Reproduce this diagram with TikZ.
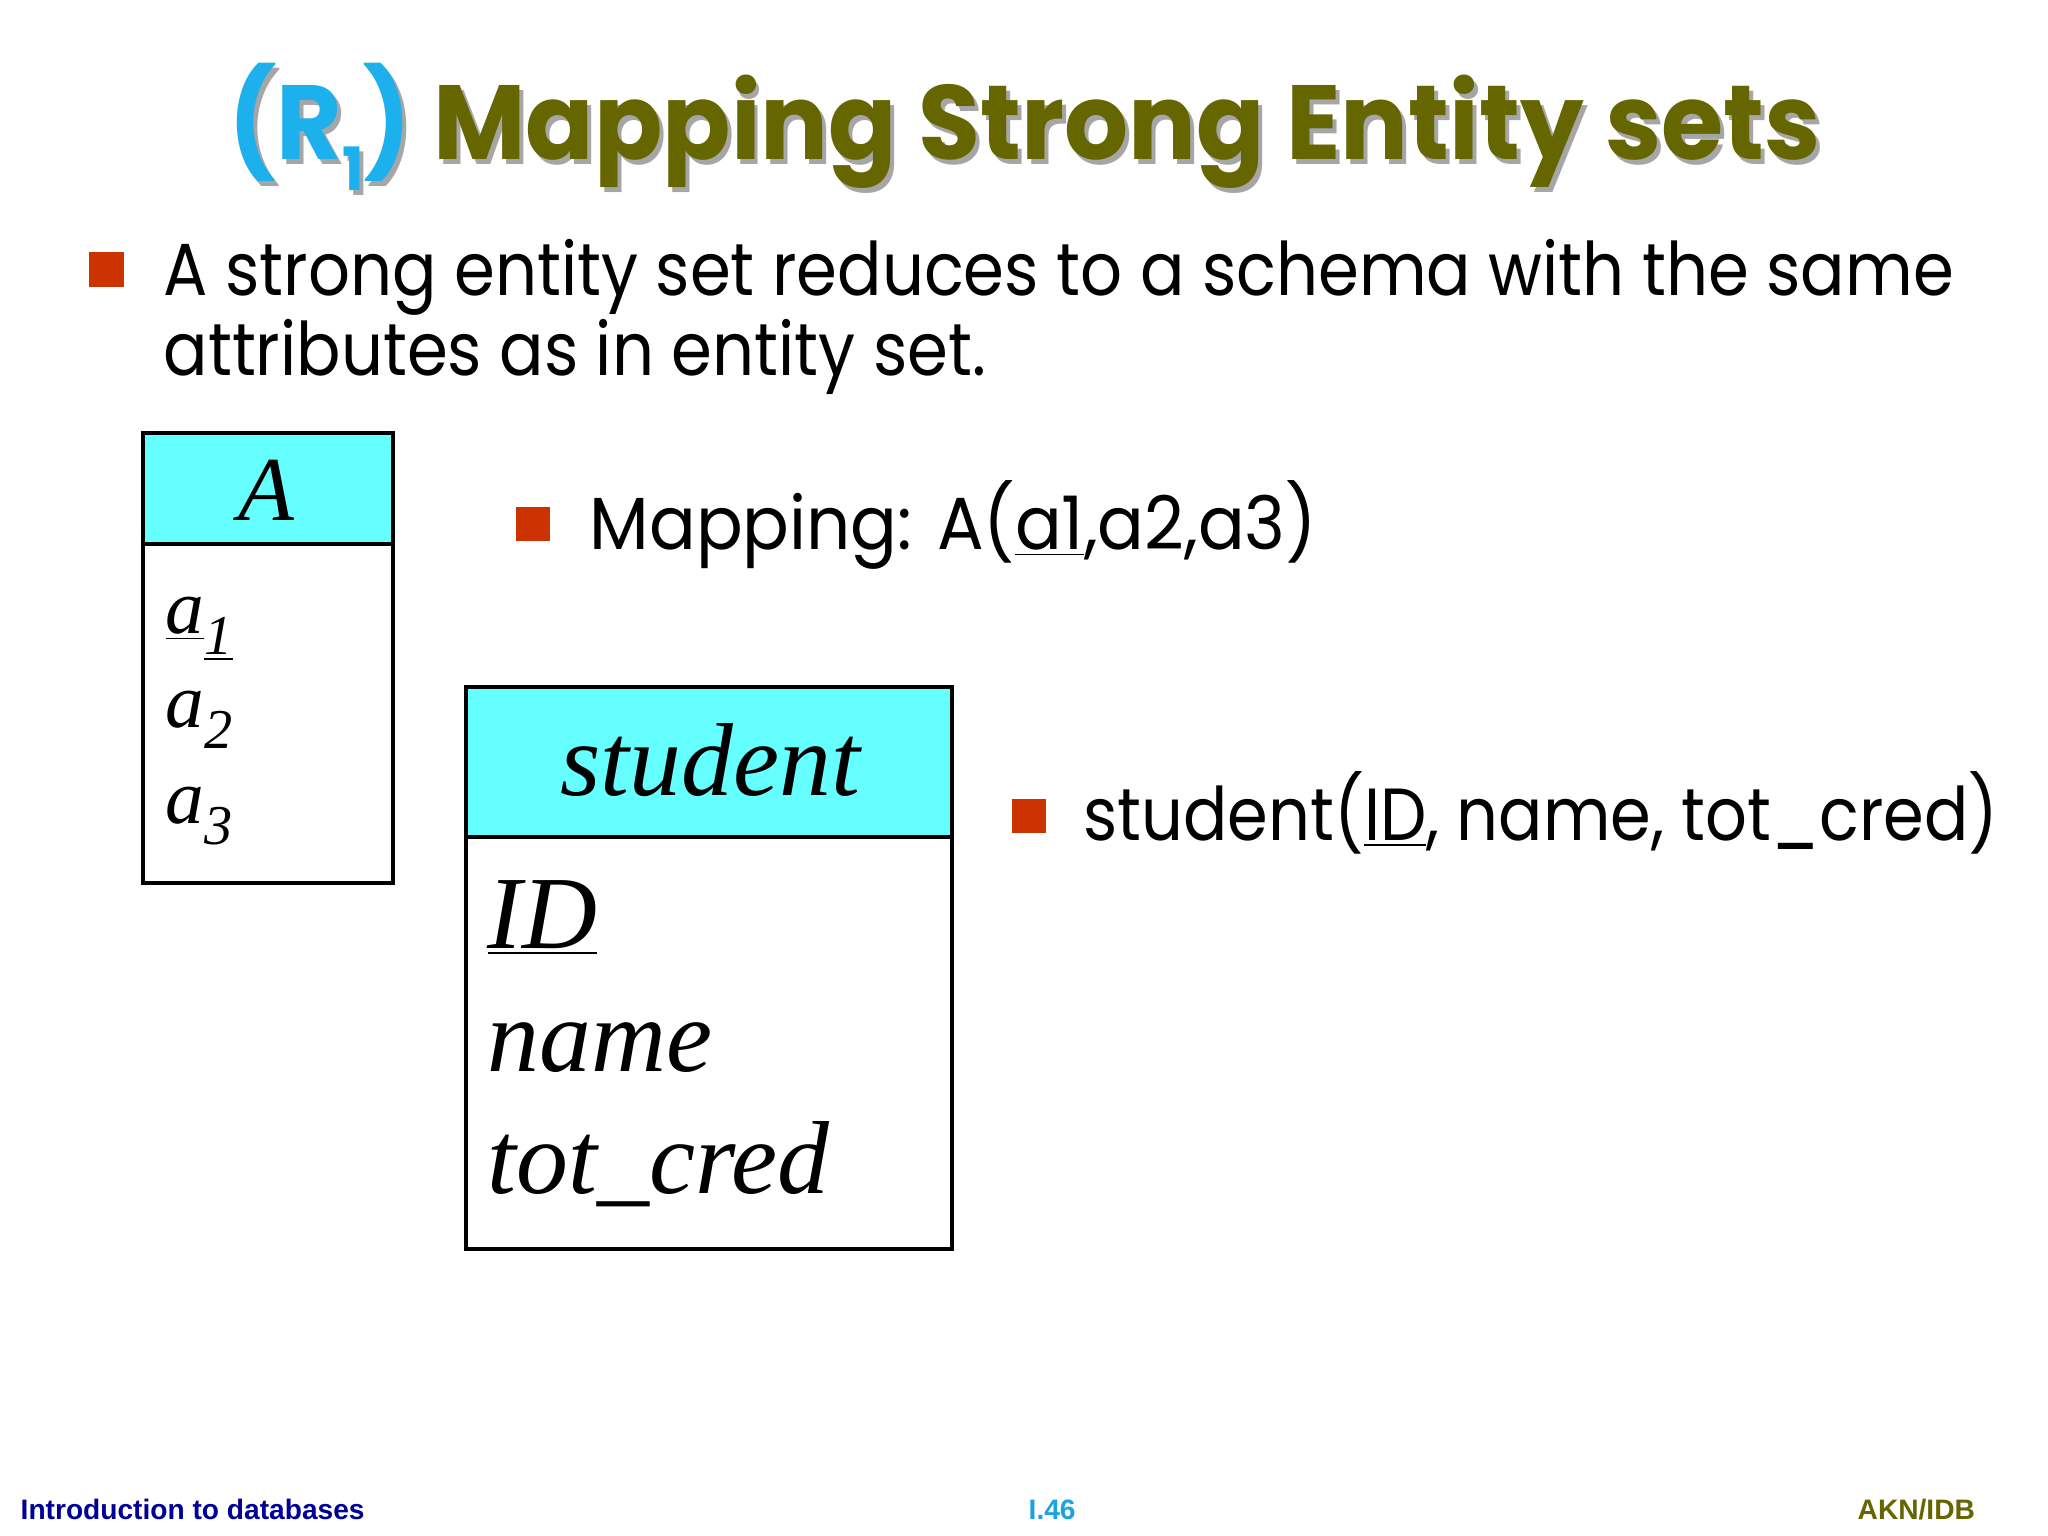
\documentclass[tikz,border=0pt]{standalone}
\usepackage{fontspec}
\setmainfont{Poppins}
\newfontfamily\timesfont{Liberation Serif}
\newfontfamily\arialfont{Liberation Sans}
\definecolor{titleolive}{HTML}{666600}
\definecolor{titlecyan}{HTML}{1CB0EC}
\definecolor{bulletred}{HTML}{CC3300}
\definecolor{headcyan}{HTML}{66FFFF}
\definecolor{footblue}{HTML}{000099}
\definecolor{footcyan}{HTML}{1AA3E0}
\newcommand{\narrow}[2]{\scalebox{#1}[1]{#2}}

\begin{document}
\begin{tikzpicture}[x=0.01cm,y=-0.01cm,
  bullet/.style={fill=bulletred,draw=none},
  body/.style={anchor=base west,inner sep=0,font=\fontsize{21}{21}\selectfont},
  erbox/.style={draw=black,line width=1.2pt},
  erhead/.style={erbox,fill=headcyan},
  ertext/.style={anchor=base west,inner sep=0,font=\timesfont\itshape\fontsize{29.5}{29.5}\selectfont},
  attr/.style={anchor=base west,inner sep=0,font=\timesfont\itshape\fontsize{22}{22}\selectfont},
  foot/.style={anchor=base west,inner sep=0,font=\arialfont\bfseries\fontsize{8}{8}\selectfont}]
\useasboundingbox[fill=white] (0,0) rectangle (2048,1536);

% title with its shadow
\node[anchor=base west,inner sep=0,text=black!35,font=\bfseries\fontsize{30}{30}\selectfont] (titleshadow) at (232,164)
  {\narrow{0.955}{(R\raisebox{-0.3em}{\fontsize{17}{17}\selectfont 1}) Mapping Strong Entity sets}};
\node[anchor=base west,inner sep=0,font=\bfseries\fontsize{30}{30}\selectfont] (title) at (228,159)
  {\narrow{0.955}{\textcolor{titlecyan}{(R\raisebox{-0.3em}{\fontsize{17}{17}\selectfont 1})} \textcolor{titleolive}{Mapping Strong Entity sets}}};

% first bullet
\fill[bullet] (89,252) rectangle (124,287);
\node[body] (line1) at (163,295) {\narrow{0.89}{A strong entity set reduces to a schema with the same}};
\node[body] (line2) at (163,375) {\narrow{0.89}{attributes as in entity set.}};

% entity set A
\draw[erhead] (143,433) rectangle (393,544);
\draw[erbox] (143,544) rectangle (393,883);
\node[ertext,font=\timesfont\itshape\fontsize{26}{26}\selectfont,anchor=base] (Aname) at (266,520) {A};
\node[attr] (a1) at (165,633)
  {\underline{a}\raisebox{-6pt}{\fontsize{16}{16}\selectfont\underline{1}}};
\node[attr] (a2) at (165,727)
  {a\raisebox{-6pt}{\fontsize{16}{16}\selectfont 2}};
\node[attr] (a3) at (165,823)
  {a\raisebox{-6pt}{\fontsize{16}{16}\selectfont 3}};

% mapping of A
\fill[bullet] (516,507) rectangle (550,541);
\node[body] (mapA) at (589,549) {\narrow{0.937}{Mapping: A(\underline{a1},a2,a3)}};

% entity set student
\draw[erhead] (466,687) rectangle (952,837);
\draw[erbox] (466,837) rectangle (952,1249);
\node[ertext,anchor=base] (sname) at (710,795) {student};
\node[ertext] (sid) at (487,948) {\underline{ID}};
\node[ertext] (sattr2) at (487,1071) {name};
\node[ertext] (sattr3) at (487,1193) {tot\_cred};

% mapping of student
\fill[bullet] (1012,799) rectangle (1046,833);
\node[body] (mapS) at (1083,840) {\narrow{0.887}{student(\underline{ID}, name, tot\_cred)}};

% footer
\node[foot,text=footblue] (course) at (20,1519) {Introduction to databases};
\node[foot,text=footcyan] (page) at (1028,1519) {I.46};
\node[foot,text=titleolive] (author) at (1857,1519) {AKN/IDB};
\end{tikzpicture}
\end{document}
